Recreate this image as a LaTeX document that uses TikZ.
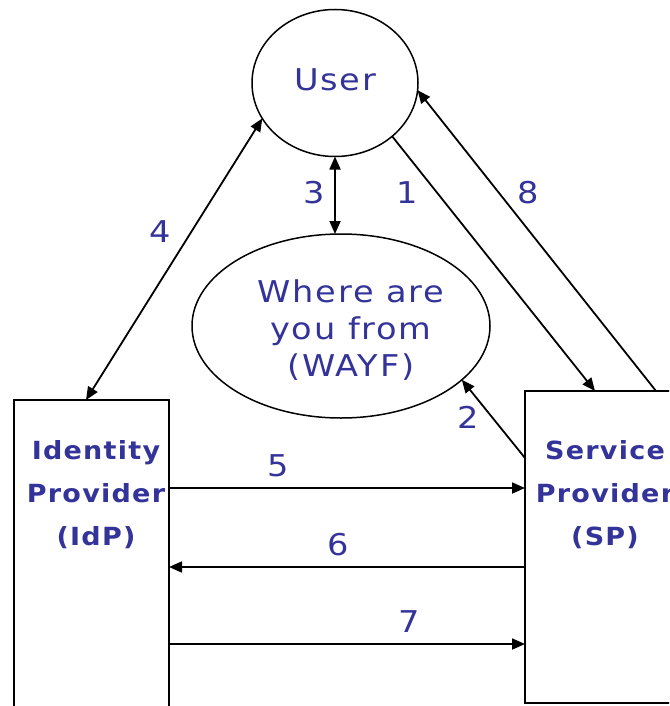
\documentclass[tikz,border=0pt]{standalone}
\usepackage{fontspec}
\newfontfamily\lblfont{DejaVu Sans}[FakeStretch=1.12,LetterSpace=6]
\newfontfamily\boxfont{DejaVu Sans}[FakeStretch=1.08,LetterSpace=5]
\usetikzlibrary{shapes.geometric,arrows.meta,calc}
\definecolor{txtblue}{RGB}{51,51,153}
\begin{document}
\begin{tikzpicture}[x=1pt,y=-1pt,
  every node/.style={inner sep=0pt,outer sep=0pt},
  shapeline/.style={draw=black,line width=1.5pt},
  oval/.style={shapeline,ellipse},
  box/.style={shapeline,rectangle,anchor=north west},
  conn/.style={line width=1.8pt},
  to tip/.style={conn,-{Triangle[length=13pt,width=11pt]}},
  both tips/.style={conn,{Triangle[length=13pt,width=11pt]}-{Triangle[length=13pt,width=11pt]}},
  lbl/.style={text=txtblue,font=\lblfont\fontsize{30}{37}\selectfont,align=center},
  boxtxt/.style={text=txtblue,font=\boxfont\bfseries\fontsize{25}{43}\selectfont,align=center},
]
\useasboundingbox (0,0) rectangle (669,706);
\clip (0,0) rectangle (669,706);
% shapes
\node[oval,minimum width=166pt,minimum height=147pt] (user) at (335,83) {};
\node[oval,minimum width=298pt,minimum height=184pt] (wayf) at (341,326) {};
\node[box,minimum width=155pt,minimum height=330pt] (idp) at (14,400) {};
\node[box,minimum width=161pt,minimum height=312pt] (sp) at (525,391) {};
% texts
\node[lbl] (usertxt) at (335,80) {User};
\node[lbl] (wayftxt) at (351,330) {Where are\\you from\\(WAYF)};
\node[boxtxt] (idptxt) at (96,495) {Identity\\Provider\\(IdP)};
\node[boxtxt] (sptxt) at (605,495) {Service\\Provider\\(SP)};
% coordinates for horizontal links
\coordinate (c2) at (0,458);
\coordinate (y5) at (0,488);
\coordinate (y6) at (0,567);
\coordinate (y7) at (0,644);
% connectors
\draw[to tip] (user.-43) -- ($(sp.north west)+(70,0)$);
\draw[to tip] ($(sp.north west)+(131,0)$) -- (user.-5);
\draw[both tips] (user.206) -- ($(idp.north west)+(72,0)$);
\draw[both tips] (user.south) -- (user.south |- wayf.north);
\draw[to tip] (sp.west |- c2) -- (wayf.-24);
\draw[to tip] (idp.east |- y5) -- (sp.west |- y5);
\draw[to tip] (sp.west |- y6) -- (idp.east |- y6);
\draw[to tip] (idp.east |- y7) -- (sp.west |- y7);
% step numbers
\node[lbl] (n1) at (407,193) {1};
\node[lbl] (n8) at (528,193) {8};
\node[lbl] (n3) at (314,193) {3};
\node[lbl] (n4) at (160,232) {4};
\node[lbl] (n2) at (468,417) {2};
\node[lbl] (n5) at (278,466) {5};
\node[lbl] (n6) at (338,545) {6};
\node[lbl] (n7) at (409,622) {7};
\end{tikzpicture}
\end{document}
